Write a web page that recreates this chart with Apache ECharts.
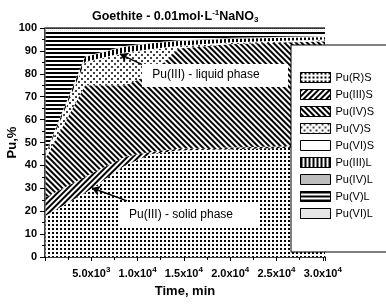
<!DOCTYPE html>
<html>
<head>
<meta charset="utf-8">
<script src="https://cdn.jsdelivr.net/npm/echarts@6/dist/echarts.min.js"></script>
<style>
  html, body { margin: 0; padding: 0; background: #fff; }
  #chart { width: 386px; height: 304px; }
</style>
</head>
<body>
<div id="chart"></div>
<script>
// time points (min) and stacked Pu fractions (%)
const times  = [60, 4320, 8640, 11520, 14400, 20160, 30240];
const puRS   = [18, 28, 40, 45, 46.5, 47, 48];
const puIIIS = [8, 7, 3.8, 1, 0.8, 0.8, 0.8];
const puIVS  = [17, 40, 31.2, 34, 43.7, 45.2, 45.3];
const puVS   = [1, 10, 14, 10.5, 1, 0.5, 0.6];
const puVIS  = [0.3, 0.3, 0.3, 0.3, 0.3, 0.3, 0.3];
const puIIIL = [0.7, 2, 2.5, 2.5, 2, 1.5, 1];
const puIVL  = [0.5, 0.3, 0.3, 0.3, 0.3, 0.4, 0.5];
const puVL   = [53.5, 11.4, 6.9, 5.4, 4.4, 3.3, 2.5];
const puVIL  = [1, 1, 1, 1, 1, 1, 1];

const names = ["Pu(R)S", "Pu(III)S", "Pu(IV)S", "Pu(V)S", "Pu(VI)S", "Pu(III)L", "Pu(IV)L", "Pu(V)L", "Pu(VI)L"];
const values = [puRS, puIIIS, puIVS, puVS, puVIS, puIIIL, puIVL, puVL, puVIL];

// annotations: [from, to] in data coords
const liquidArrow = [[11300, 82.5], [8100, 88.6]];
const solidArrow = [[8850, 24.5], [5080, 30.1]];

const FONT = "Liberation Sans";

const fills = ["#fff", "#fff", "#fff", "#fff", "#fff", "#fff", "#bdbdbd", "#fff", "#fff"];
const decals = [
  { symbol: "rect", symbolSize: 1, color: "#000", backgroundColor: null, dashArrayX: [2, 2], dashArrayY: [2, 2] },
  { symbol: "rect", symbolSize: 1, color: "#000", backgroundColor: null, dashArrayX: [1, 0], dashArrayY: [2, 2], rotation: -Math.PI / 4 },
  { symbol: "rect", symbolSize: 1, color: "#000", backgroundColor: null, dashArrayX: [1, 0], dashArrayY: [2, 2], rotation: Math.PI / 4 },
  { symbol: "circle", symbolSize: 1, color: "#000", backgroundColor: null, dashArrayX: [[2, 4], [0, 3, 2, 1]], dashArrayY: [2, 1] },
  null,
  { symbol: "rect", symbolSize: 1, color: "#000", backgroundColor: null, dashArrayX: [2, 2], dashArrayY: [1, 0] },
  null,
  { symbol: "rect", symbolSize: 1, color: "#000", backgroundColor: null, dashArrayX: [1, 0], dashArrayY: [2, 2] },
  { symbol: "rect", symbolSize: 1, color: "#999", backgroundColor: null, dashArrayX: [1, 1], dashArrayY: [1, 1] },
];

const chart = echarts.init(document.getElementById("chart"));

// value goes first so the stack runs on the y dimension
const series = names.map((name, i) => {
  const last = i === names.length - 1;
  const s = {
    name: name,
    type: "line",
    stack: "pu",
    color: fills[i],
    showSymbol: false,
    symbol: "none",
    // only the top edge at 100% gets a visible line
    lineStyle: last ? { width: 1.5, color: "#000" } : { width: 0 },
    areaStyle: { color: fills[i], opacity: 1 },
    encode: { x: 1, y: 0 },
    data: times.map((t, j) => [values[i][j], t]),
    animation: false,
  };
  if (decals[i]) s.itemStyle = { decal: decals[i] };
  return s;
});

series.push({
  name: "arrows",
  type: "line",
  data: [],
  animation: false,
  markLine: {
    silent: true,
    animation: false,
    symbol: ["none", "arrow"],
    symbolSize: 8,
    label: { show: false },
    lineStyle: { color: "#000", width: 1.5, type: "solid" },
    data: [
      [{ coord: liquidArrow[0] }, { coord: liquidArrow[1] }],
      [{ coord: solidArrow[0] }, { coord: solidArrow[1] }],
    ],
  },
});

const option = {
  backgroundColor: "#fff",
  title: {
    text: "{t|Goethite - 0.01mol·L}{sup|-1}{t|NaNO}{sub|3}",
    left: 87,
    top: 4,
    textStyle: {
      rich: {
        t: { fontFamily: FONT, fontWeight: "bold", fontSize: 12.5, color: "#000" },
        sup: { fontFamily: FONT, fontWeight: "bold", fontSize: 8, color: "#000", padding: [0, 0, 8, 0] },
        sub: { fontFamily: FONT, fontWeight: "bold", fontSize: 8, color: "#000", padding: [6, 0, 0, 0] },
      },
    },
  },
  legend: {
    orient: "vertical",
    left: 291,
    top: 45,
    padding: [27, 60, 33, 9],
    itemWidth: 30,
    itemHeight: 10,
    itemGap: 6,
    icon: "rect",
    backgroundColor: "#fff",
    borderColor: "#000",
    borderWidth: 1,
    textStyle: { fontFamily: FONT, fontSize: 11, color: "#000" },
    data: names.map((n, i) => ({
      name: n,
      itemStyle: { color: fills[i], borderColor: "#000", borderWidth: 1 },
    })),
  },
  grid: { left: 45, right: 61, top: 28, bottom: 47, outerBoundsMode: "none" },
  xAxis: {
    type: "value",
    min: 0,
    max: 30240,
    interval: 5000,
    name: "Time, min",
    nameLocation: "middle",
    nameGap: 28,
    nameTextStyle: { fontFamily: FONT, fontWeight: "bold", fontSize: 13, color: "#000" },
    axisLine: { lineStyle: { color: "#000", width: 1.5 } },
    axisTick: { length: 4, lineStyle: { color: "#000", width: 1 } },
    minorTick: { show: true, splitNumber: 2, length: 3, lineStyle: { color: "#000" } },
    splitLine: { show: false },
    axisLabel: {
      margin: 9,
      formatter: (v) => {
        if (v === 0) return "";
        const e = Math.floor(Math.log10(v));
        return "{b|" + (v / Math.pow(10, e)).toFixed(1) + "x10}{s|" + e + "}";
      },
      rich: {
        b: { fontFamily: FONT, fontWeight: "bold", fontSize: 11, color: "#000" },
        s: { fontFamily: FONT, fontWeight: "bold", fontSize: 8, color: "#000", padding: [0, 0, 8, 0] },
      },
    },
  },
  yAxis: {
    type: "value",
    min: 0,
    max: 100,
    interval: 10,
    name: "Pu,%",
    nameLocation: "middle",
    nameGap: 26,
    nameMoveOverlap: false,
    nameTextStyle: { fontFamily: FONT, fontWeight: "bold", fontSize: 13, color: "#000" },
    axisLine: { show: true, lineStyle: { color: "#000", width: 1.5 } },
    axisTick: { show: true, length: 5, lineStyle: { color: "#000", width: 1 } },
    minorTick: { show: true, splitNumber: 2, length: 3, lineStyle: { color: "#000" } },
    splitLine: { show: false },
    axisLabel: { margin: 8, fontFamily: FONT, fontWeight: "bold", fontSize: 11, color: "#000" },
  },
  graphic: [
    {
      type: "rect", z: 100,
      shape: { x: 142, y: 64, width: 146, height: 23 },
      style: { fill: "#fff" },
    },
    {
      type: "text", z: 101, x: 206, y: 75,
      style: { text: "Pu(III) - liquid phase", fontFamily: FONT, fontSize: 12, fill: "#000", align: "center", verticalAlign: "middle" },
    },
    {
      type: "rect", z: 100,
      shape: { x: 118, y: 204, width: 140, height: 22 },
      style: { fill: "#fff" },
    },
    {
      type: "text", z: 101, x: 181, y: 215,
      style: { text: "Pu(III) - solid phase", fontFamily: FONT, fontSize: 12, fill: "#000", align: "center", verticalAlign: "middle" },
    },
  ],
  series: series,
};

chart.setOption(option);
</script>
</body>
</html>
